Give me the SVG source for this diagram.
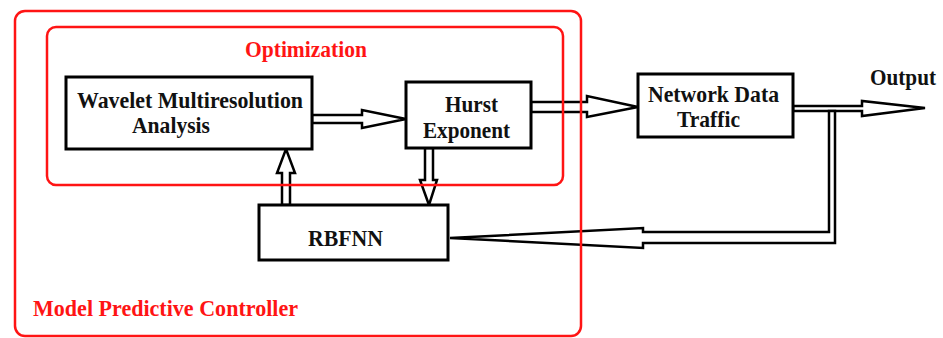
<svg xmlns="http://www.w3.org/2000/svg" width="943" height="338" viewBox="0 0 943 338">
  <style>
    .box { fill: #ffffff; stroke: #000000; stroke-width: 3; }
    .frame { fill: none; stroke: #ff1414; stroke-width: 2.5; }
    .arrow { fill: #ffffff; stroke: #000000; stroke-width: 2.5; stroke-linejoin: miter; }
    .lbl { font-family: "Liberation Serif", "Times New Roman", serif; font-weight: bold; font-size: 23px; fill: #111111; }
    .red { fill: #ff1414; }
  </style>
  <rect width="943" height="338" fill="#ffffff"/>

  <!-- connectors: hollow double-line arrows -->
  <g id="connectors">
    <polygon class="arrow" points="312,115 362,115 362,110 406,119 362,128 362,123 312,123"/>
    <polygon class="arrow" points="531,102 587,102 587,96 638,107 587,117 587,112 531,112"/>
    <polygon class="arrow" points="793,106 862,106 862,101 925,108 862,116 862,111 793,111"/>
    <polygon class="arrow" points="829,111 829,232 643,232 643,228 450,238 643,248 643,243 835,243 835,111"/>
    <polygon class="arrow" points="282,205 282,173 277,173 286,149 295,173 290,173 290,205"/>
    <polygon class="arrow" points="425,148 425,180 420,180 429,205 437,180 433,180 433,148"/>
  </g>

  <g id="wavelet">
    <rect class="box" x="66" y="77" width="246" height="72"/>
    <text class="lbl" x="77" y="108" textLength="226" lengthAdjust="spacingAndGlyphs">Wavelet Multiresolution</text>
    <text class="lbl" x="132" y="133" textLength="78" lengthAdjust="spacingAndGlyphs">Analysis</text>
  </g>

  <g id="hurst">
    <rect class="box" x="406" y="82" width="125" height="66"/>
    <text class="lbl" x="445" y="112" textLength="53" lengthAdjust="spacingAndGlyphs">Hurst</text>
    <text class="lbl" x="423" y="138" textLength="87" lengthAdjust="spacingAndGlyphs">Exponent</text>
  </g>

  <g id="network">
    <rect class="box" x="638" y="74" width="155" height="63"/>
    <text class="lbl" x="648" y="102" textLength="131" lengthAdjust="spacingAndGlyphs">Network Data</text>
    <text class="lbl" x="677" y="127" textLength="63" lengthAdjust="spacingAndGlyphs">Traffic</text>
  </g>

  <g id="rbfnn">
    <rect class="box" x="259" y="205" width="189" height="55"/>
    <text class="lbl" x="308" y="246" textLength="75" lengthAdjust="spacingAndGlyphs">RBFNN</text>
  </g>

  <g id="output">
    <text class="lbl" x="870" y="85" font-size="21" textLength="66" lengthAdjust="spacingAndGlyphs">Output</text>
  </g>

  <!-- red grouping frames drawn above the arrows -->
  <g id="optimization">
    <rect class="frame" x="47" y="27" width="516" height="158" rx="9"/>
    <text class="lbl red" x="245" y="57" textLength="122" lengthAdjust="spacingAndGlyphs">Optimization</text>
  </g>

  <g id="mpc">
    <rect class="frame" x="15" y="11" width="566" height="325" rx="10"/>
    <text class="lbl red" x="33" y="316" textLength="265" lengthAdjust="spacingAndGlyphs">Model Predictive Controller</text>
  </g>
</svg>
